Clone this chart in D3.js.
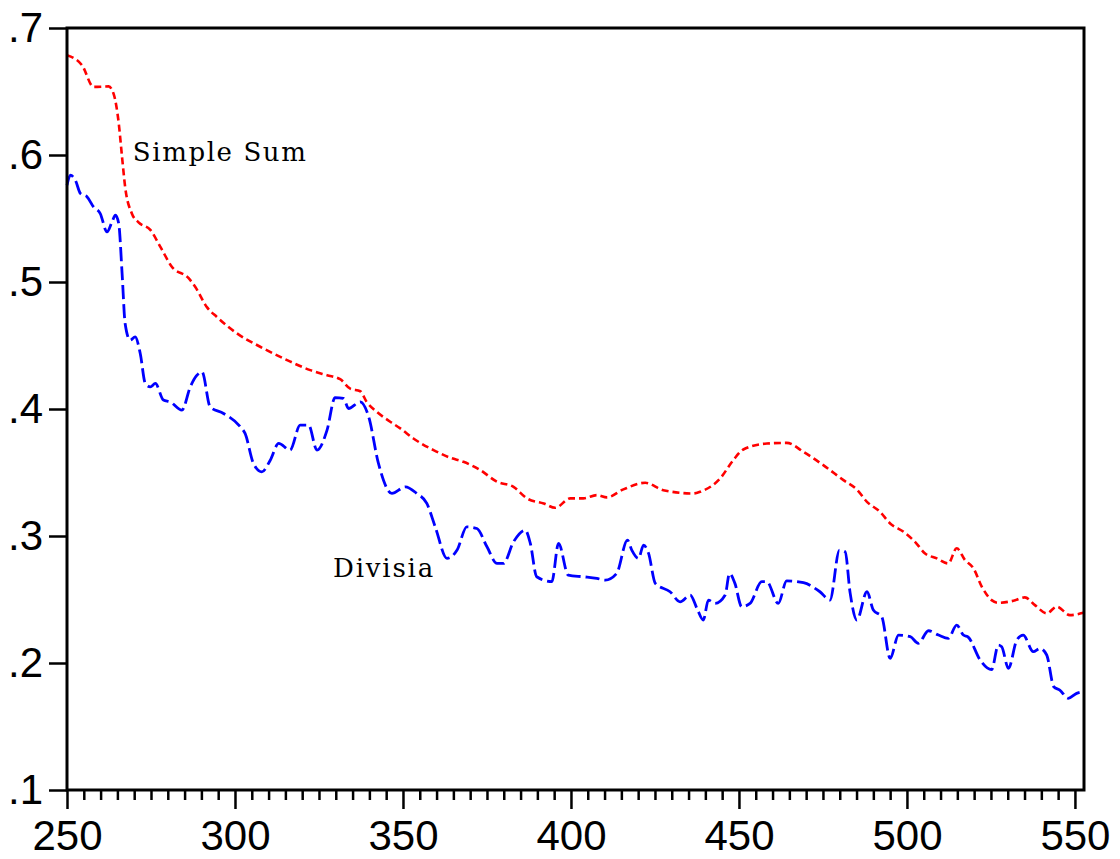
<!DOCTYPE html>
<html>
<head>
<meta charset="utf-8">
<script src="https://cdn.jsdelivr.net/npm/d3@7"></script>
<style>
  html, body { margin: 0; padding: 0; background: #fff; }
  svg { display: block; }
</style>
</head>
<body>
<div id="chart"></div>
<script>
// ---- data ----
const simpleX = [250,254.5,257.9,262.4,263.9,265.4,266.4,267.3,269.3,271.3,274.8,277.8,281.2,286.2,288.2,291.7,294.6,300.6,307.5,315.5,322.4,327.4,331.3,334.3,337.3,339.2,342.2,346.2,349.2,353.1,359.1,364.1,368,373,378,382.9,386.9,391.9,395.3,399.8,403.7,407.7,410.7,415.6,422.1,427.5,436.4,438.4,444.4,448.3,451.3,458.3,464.2,469.2,475.1,481.1,485.1,488.1,492,495,499,502.4,505.4,508.9,512.3,514.8,517.3,519.8,522.3,525.2,527.2,531.7,535.1,538.1,541.6,544.6,548.5,552.5];
const simpleY = [0.6785,0.6706,0.6536,0.654,0.648,0.625,0.598,0.575,0.554,0.547,0.541,0.5276,0.512,0.503,0.496,0.480,0.4725,0.4595,0.449,0.4385,0.4306,0.4266,0.4235,0.416,0.414,0.4056,0.3978,0.39,0.3847,0.3768,0.3676,0.3616,0.3584,0.3519,0.3427,0.3387,0.3296,0.3256,0.3222,0.3296,0.3296,0.3322,0.3304,0.3367,0.3419,0.3361,0.3335,0.3348,0.3453,0.3597,0.3681,0.3728,0.3733,0.3663,0.3558,0.344,0.3365,0.3269,0.319,0.3099,0.3033,0.2954,0.2863,0.2824,0.2784,0.2903,0.281,0.2745,0.26,0.2495,0.2474,0.249,0.2517,0.2456,0.2391,0.2443,0.2377,0.2395];

const divisiaX = [250,251,252.5,254,256,257.9,259.9,261.9,263.4,264.4,265.4,266.4,267.3,268.8,270.3,271.8,273.3,274.8,276.3,278.7,280.7,284.2,286.7,288.5,290.2,292.6,296.6,301.6,303,305.5,308,310.5,313,316.4,319.4,321.9,324.4,327.4,329.8,332.3,333.8,337.3,339.8,342.7,346.7,350.7,354.1,357.1,359.6,363.1,366.1,369,372,375,378,379.9,382.9,386.4,387.9,389.8,394.3,396.3,399.2,403.7,407.7,410.2,413.6,416.8,418.1,420.1,421.6,423.1,425.1,429.5,432.5,435.5,437.5,439.4,440.9,442.9,445.9,447.2,448.8,450.8,453.3,456.8,458.3,461.7,464.2,469.2,474.1,477.1,479.9,481.6,483.1,485.1,488.1,490,492.5,495,497.5,501,503.4,506.4,509.4,512.3,514.8,516.8,518.3,521.8,525.2,527.2,528.2,530.2,532.7,534.6,537.6,539.6,541.6,543.7,545.5,548,550.5,552.5];
const divisiaY = [0.5762,0.5841,0.5801,0.5697,0.567,0.5591,0.5539,0.5394,0.5473,0.5526,0.546,0.5067,0.4673,0.4542,0.4568,0.4437,0.4201,0.4174,0.4201,0.407,0.4056,0.3991,0.4174,0.426,0.4292,0.4017,0.3965,0.386,0.3808,0.3571,0.3505,0.3597,0.3729,0.3676,0.3873,0.3873,0.3676,0.3834,0.409,0.4083,0.4004,0.4056,0.3938,0.3571,0.3335,0.3387,0.3335,0.3256,0.3072,0.2824,0.2889,0.3072,0.3059,0.2915,0.2784,0.2784,0.2954,0.3046,0.2942,0.2679,0.264,0.2942,0.2692,0.2679,0.2666,0.2653,0.2705,0.2968,0.2889,0.2824,0.2928,0.2863,0.2627,0.2561,0.2482,0.2535,0.243,0.2338,0.2495,0.2469,0.2535,0.2705,0.2627,0.2443,0.2469,0.264,0.264,0.2469,0.2647,0.2632,0.2561,0.2495,0.2889,0.2876,0.255,0.2338,0.2561,0.2417,0.2364,0.2037,0.222,0.2207,0.2155,0.2254,0.222,0.2194,0.2299,0.222,0.2202,0.2023,0.1948,0.2141,0.2128,0.1958,0.2181,0.222,0.2089,0.2115,0.2063,0.1813,0.1787,0.1722,0.1761,0.1774];

const xMajorTicks = [250,300,350,400,450,500,550];
const yTicks = [0.1,0.2,0.3,0.4,0.5,0.6,0.7];
const seriesNames = ["Simple Sum","Divisia"];

// ---- layout ----
const W = 1120, H = 859;
const L = 67, R = 1084, T = 28, B = 790;

const svg = d3.select("#chart").append("svg")
  .attr("width", W).attr("height", H);
svg.append("rect").attr("width", W).attr("height", H).attr("fill", "#fff");

const x = d3.scaleLinear().domain([250, 552.7]).range([L, R]);
const y = d3.scaleLinear().domain([0.1, 0.7]).range([B, T]);

const fmtY = d => d3.format(".1f")(d).replace(/^0/, "");
const tickFont = "'Liberation Sans', Arial, sans-serif";

// minor x ticks
const minorTicks = d3.range(250, 551, 5).filter(v => v % 50 !== 0);
svg.append("g").attr("transform", `translate(0,${B})`)
  .call(d3.axisBottom(x).tickValues(minorTicks).tickSize(10).tickFormat(""))
  .call(g => g.select(".domain").remove())
  .call(g => g.selectAll("line").attr("stroke", "#000").attr("stroke-width", 2.5));

// major x ticks
svg.append("g").attr("transform", `translate(0,${B})`)
  .call(d3.axisBottom(x).tickValues(xMajorTicks).tickSize(19).tickPadding(11).tickFormat(d3.format("d")))
  .call(g => g.select(".domain").remove())
  .call(g => g.selectAll("line").attr("stroke", "#000").attr("stroke-width", 2.5))
  .call(g => g.selectAll("text").attr("fill", "#000").attr("font-family", tickFont).attr("font-size", 42));

// y ticks
svg.append("g").attr("transform", `translate(${L},0)`)
  .call(d3.axisLeft(y).tickValues(yTicks).tickSize(18).tickPadding(6).tickFormat(fmtY))
  .call(g => g.select(".domain").remove())
  .call(g => g.selectAll("line").attr("stroke", "#000").attr("stroke-width", 2.5))
  .call(g => g.selectAll("text").attr("fill", "#000").attr("font-family", tickFont).attr("font-size", 42));

// lines
const line = d3.line().x(d => x(d[0])).y(d => y(d[1])).curve(d3.curveMonotoneX);
const simpleData = simpleX.map((v, i) => [v, simpleY[i]]);
const divisiaData = divisiaX.map((v, i) => [v, divisiaY[i]]);

svg.append("path").datum(simpleData)
  .attr("d", line).attr("fill", "none")
  .attr("stroke", "#ff0000").attr("stroke-width", 2.6)
  .attr("stroke-dasharray", "7,4");

svg.append("path").datum(divisiaData)
  .attr("d", line).attr("fill", "none")
  .attr("stroke", "#0000ff").attr("stroke-width", 2.8)
  .attr("stroke-dasharray", "14,5");

// frame
svg.append("rect")
  .attr("x", L).attr("y", T).attr("width", R - L).attr("height", B - T)
  .attr("fill", "none").attr("stroke", "#000").attr("stroke-width", 3);

// series labels
const labelFont = "'DejaVu Serif', serif";
svg.append("text").attr("x", x(269.6)).attr("y", y(0.595))
  .attr("font-family", labelFont).attr("font-size", 26).attr("letter-spacing", 1.6)
  .attr("fill", "#000").text(seriesNames[0]);
svg.append("text").attr("x", x(329.2)).attr("y", y(0.2677))
  .attr("font-family", labelFont).attr("font-size", 26).attr("letter-spacing", 1.8)
  .attr("fill", "#000").text(seriesNames[1]);
</script>
</body>
</html>
